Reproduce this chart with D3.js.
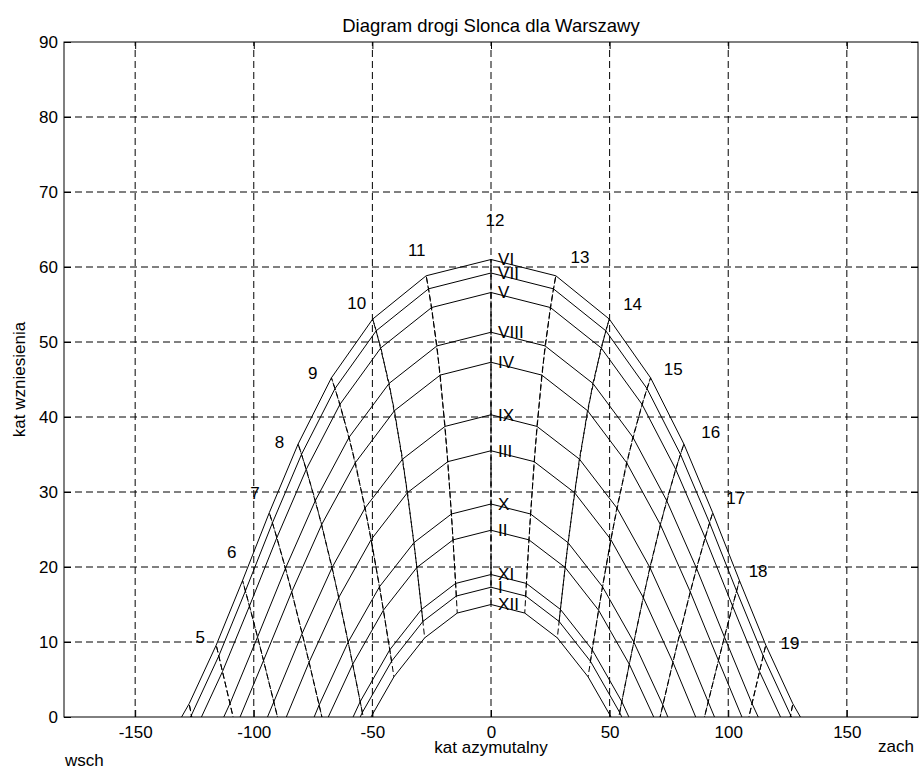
<!DOCTYPE html>
<html>
<head>
<meta charset="utf-8">
<script src="https://cdn.jsdelivr.net/npm/d3@7"></script>
<style>
  body { margin: 0; background: #fff; }
  svg { font-family: 'Liberation Sans', Arial, sans-serif; }
</style>
</head>
<body>
<script>
// hours of solar time, 3..21 (only 4..20 actually show above the horizon)
const hours = [3, 4, 5, 6, 7, 8, 9, 10, 11, 12, 13, 14, 15, 16, 17, 18, 19, 20, 21];
const months = ['I', 'II', 'III', 'IV', 'V', 'VI', 'VII', 'VIII', 'IX', 'X', 'XI', 'XII'];

// azimuth (deg from south, east negative) and elevation for every hour, one pair per month
const azI = [-115.07, -100.92, -88.60, -77.14, -65.86, -54.24, -41.92, -28.71, -14.62, 0, 14.62, 28.71, 41.92, 54.24, 65.86, 77.14, 88.60, 100.92, 115.07];
const altI = [-42.99, -34.27, -25.13, -16.04, -7.34, 0.61, 7.43, 12.74, 16.13, 17.30, 16.13, 12.74, 7.43, 0.61, -7.34, -16.04, -25.13, -34.27, -42.99];
const azII = [-120.68, -106.45, -93.85, -82.05, -70.38, -58.29, -45.34, -31.24, -15.99, 0, 15.99, 31.24, 45.34, 58.29, 70.38, 82.05, 93.85, 106.45, 120.68];
const altII = [-36.72, -28.31, -19.29, -10.13, -1.22, 7.04, 14.25, 19.94, 23.62, 24.90, 23.62, 19.94, 14.25, 7.04, -1.22, -10.13, -19.29, -28.31, -36.72];
const azIII = [-127.10, -113.21, -100.59, -88.62, -76.68, -64.16, -50.49, -35.20, -18.19, 0, 18.19, 35.20, 50.49, 64.16, 76.68, 88.62, 100.59, 113.21, 127.10];
const altIII = [-27.62, -19.69, -10.92, -1.78, 7.31, 15.95, 23.67, 29.92, 34.05, 35.50, 34.05, 29.92, 23.67, 15.95, 7.31, -1.78, -10.92, -19.69, -27.62];
const azIV = [-133.12, -119.92, -107.67, -95.88, -83.99, -71.38, -57.15, -40.68, -21.39, 0, 21.39, 40.68, 57.15, 71.38, 83.99, 95.88, 107.67, 119.92, 133.12];
const altIV = [-17.20, -9.83, -1.44, 7.54, 16.70, 25.66, 33.92, 40.85, 45.59, 47.30, 45.59, 40.85, 33.92, 25.66, 16.70, 7.54, -1.44, -9.83, -17.20];
const azV = [-137.37, -124.92, -113.19, -101.81, -90.26, -77.85, -63.66, -46.42, -25.01, 0, 25.01, 46.42, 63.66, 77.85, 90.26, 101.81, 113.19, 124.92, 137.37];
const altV = [-8.87, -1.96, 6.06, 14.80, 23.92, 33.04, 41.69, 49.22, 54.60, 56.60, 54.60, 49.22, 41.69, 33.04, 23.92, 14.80, 6.06, -1.96, -8.87];
const azVI = [-139.30, -127.24, -115.83, -104.74, -93.46, -81.31, -67.28, -49.86, -27.33, 0, 27.33, 49.86, 67.28, 81.31, 93.46, 104.74, 115.83, 127.24, 139.30];
const altVI = [-4.91, 1.77, 9.59, 18.19, 27.24, 36.40, 45.22, 53.06, 58.83, 61.00, 58.83, 53.06, 45.22, 36.40, 27.24, 18.19, 9.59, 1.77, -4.91];
const azVII = [-138.51, -126.29, -114.75, -103.52, -92.13, -79.86, -65.74, -48.38, -26.32, 0, 26.32, 48.38, 65.74, 79.86, 92.13, 103.52, 114.75, 126.29, 138.51];
const altVII = [-6.53, 0.24, 8.14, 16.81, 25.89, 35.03, 43.80, 51.50, 57.09, 59.20, 57.09, 51.50, 43.80, 35.03, 25.89, 16.81, 8.14, 0.24, -6.53];
const azVIII = [-134.98, -122.08, -110.03, -98.39, -86.62, -74.03, -59.80, -42.95, -22.78, 0, 22.78, 42.95, 59.80, 74.03, 86.62, 98.39, 110.03, 122.08, 134.98];
const altVIII = [-13.63, -6.45, 1.79, 10.68, 19.84, 28.87, 37.31, 44.48, 49.48, 51.30, 49.48, 44.48, 37.31, 28.87, 19.84, 10.68, 1.79, -6.45, -13.63];
const azIX = [-129.67, -116.01, -103.50, -91.56, -79.59, -66.97, -53.05, -37.25, -19.36, 0, 19.36, 37.25, 53.05, 66.97, 79.59, 91.56, 103.50, 116.01, 129.67];
const altIX = [-23.41, -15.70, -7.07, 2.02, 11.16, 19.94, 27.88, 34.39, 38.75, 40.30, 38.75, 34.39, 27.88, 19.94, 11.16, 2.02, -7.07, -15.70, -23.41];
const azX = [-122.95, -108.74, -96.14, -84.24, -72.45, -60.19, -46.98, -32.47, -16.67, 0, 16.67, 32.47, 46.98, 60.19, 72.45, 84.24, 96.14, 108.74, 122.95];
const altX = [-33.75, -25.50, -16.55, -7.38, 1.60, 10.00, 17.38, 23.25, 27.07, 28.40, 27.07, 23.25, 17.38, 10.00, 1.60, -7.38, -16.55, -25.50, -33.75];
const azXI = [-116.42, -102.22, -89.81, -78.26, -66.88, -55.14, -42.67, -29.26, -14.92, 0, 14.92, 29.26, 42.67, 55.14, 66.88, 78.26, 89.81, 102.22, 116.42];
const altXI = [-41.61, -32.96, -23.84, -14.72, -5.98, 2.05, 8.96, 14.35, 17.81, 19.00, 17.81, 14.35, 8.96, 2.05, -5.98, -14.72, -23.84, -32.96, -41.61];
const azXII = [-113.16, -99.10, -86.91, -75.60, -64.47, -53.02, -40.92, -27.97, -14.23, 0, 14.23, 27.97, 40.92, 53.02, 64.47, 75.60, 86.91, 99.10, 113.16];
const altXII = [-44.83, -36.02, -26.87, -17.80, -9.19, -1.34, 5.36, 10.55, 13.86, 15.00, 13.86, 10.55, 5.36, -1.34, -9.19, -17.80, -26.87, -36.02, -44.83];

// hour labels and where they sit (azimuth, elevation)
const hourLabels = ['5', '6', '7', '8', '9', '10', '11', '12', '13', '14', '15', '16', '17', '18', '19'];
const hourLabelAz = [-122.6, -109.3, -99.5, -89.2, -75.1, -56.6, -31.3, 1.7, 37.5, 59.7, 76.8, 92.6, 103.2, 112.6, 126.0];
const hourLabelAlt = [10.7, 22.0, 29.8, 36.7, 45.8, 55.2, 62.3, 66.3, 61.3, 55.1, 46.4, 38.0, 29.2, 19.5, 9.9];

const xTicks = [-150, -100, -50, 0, 50, 100, 150];
const yTicks = [0, 10, 20, 30, 40, 50, 60, 70, 80, 90];

const azAll = [azI, azII, azIII, azIV, azV, azVI, azVII, azVIII, azIX, azX, azXI, azXII];
const altAll = [altI, altII, altIII, altIV, altV, altVI, altVII, altVIII, altIX, altX, altXI, altXII];

const w = 923;
const h = 771;
const pLeft = 64, pRight = 918, pTop = 42, pBottom = 717;
const fontSize = 17;

const xScale = d3.scaleLinear().domain([-180, 180]).range([pLeft, pRight]);
const yScale = d3.scaleLinear().domain([0, 90]).range([pBottom, pTop]);

const svg = d3.select('body')
  .append('svg')
  .attr('width', w)
  .attr('height', h)
  .style('font-size', fontSize + 'px');

svg.append('rect').attr('width', w).attr('height', h).attr('fill', '#fff');

svg.append('clipPath')
  .attr('id', 'plotClip')
  .append('rect')
  .attr('x', pLeft)
  .attr('y', pTop)
  .attr('width', pRight - pLeft)
  .attr('height', pBottom - pTop);

//dashed grid
const grid = svg.append('g').attr('stroke', '#000').attr('stroke-width', 1).attr('stroke-dasharray', '7,4');
grid.selectAll('.vgrid')
  .data(xTicks)
  .enter()
  .append('line')
  .attr('x1', (d) => xScale(d))
  .attr('x2', (d) => xScale(d))
  .attr('y1', pBottom)
  .attr('y2', pTop);
grid.selectAll('.hgrid')
  .data(yTicks.slice(1, -1))
  .enter()
  .append('line')
  .attr('x1', pLeft)
  .attr('x2', pRight)
  .attr('y1', (d) => yScale(d))
  .attr('y2', (d) => yScale(d));

const plot = svg.append('g').attr('clip-path', 'url(#plotClip)');
const line = d3.line().x((d) => xScale(d[0])).y((d) => yScale(d[1]));

//one solid path per month
plot.selectAll('.month')
  .data(months.map((m, i) => azAll[i].map((a, k) => [a, altAll[i][k]])))
  .enter()
  .append('path')
  .attr('class', 'month')
  .attr('d', line)
  .attr('fill', 'none')
  .attr('stroke', '#000')
  .attr('stroke-width', 1);

//dashed hour lines, going through the months in calendar order
plot.selectAll('.hour')
  .data(hours.map((hr, k) => months.map((m, i) => [azAll[i][k], altAll[i][k]])))
  .enter()
  .append('path')
  .attr('class', 'hour')
  .attr('d', line)
  .attr('fill', 'none')
  .attr('stroke', '#000')
  .attr('stroke-width', 1)
  .attr('stroke-dasharray', '6,3');

//axes, ticks pointing inwards; plain hyphen for negatives like the original
const plain = (d) => String(d);
const xAxis = d3.axisBottom(xScale).tickValues(xTicks).tickFormat(plain).tickSize(-7).tickSizeOuter(0).tickPadding(9);
const yAxis = d3.axisLeft(yScale).tickValues(yTicks).tickFormat(plain).tickSize(-7).tickSizeOuter(0).tickPadding(6);
const xAxisTop = d3.axisTop(xScale).tickValues(xTicks).tickSize(-7).tickSizeOuter(0).tickFormat('');
const yAxisRight = d3.axisRight(yScale).tickValues(yTicks).tickSize(-7).tickSizeOuter(0).tickFormat('');

svg.append('g').attr('transform', `translate(0, ${pBottom})`).call(xAxis);
svg.append('g').attr('transform', `translate(${pLeft}, 0)`).call(yAxis);
svg.append('g').attr('transform', `translate(0, ${pTop})`).call(xAxisTop);
svg.append('g').attr('transform', `translate(${pRight}, 0)`).call(yAxisRight);
svg.selectAll('.domain').remove();
svg.selectAll('.tick text').attr('font-size', fontSize).attr('font-family', 'Liberation Sans, Arial, sans-serif');

svg.append('rect')
  .attr('x', pLeft)
  .attr('y', pTop)
  .attr('width', pRight - pLeft)
  .attr('height', pBottom - pTop)
  .attr('fill', 'none')
  .attr('stroke', '#000')
  .attr('stroke-width', 1);

//month names next to the noon point
svg.selectAll('.monthLabel')
  .data(months)
  .enter()
  .append('text')
  .attr('x', xScale(3))
  .attr('y', (d, i) => yScale(altAll[i][9]))
  .attr('dy', '0.35em')
  .text((d) => d);

//hour labels
svg.selectAll('.hourLabel')
  .data(hourLabels)
  .enter()
  .append('text')
  .attr('x', (d, i) => xScale(hourLabelAz[i]))
  .attr('y', (d, i) => yScale(hourLabelAlt[i]))
  .attr('dy', '0.35em')
  .attr('text-anchor', 'middle')
  .text((d) => d);

//title and axis labels
svg.append('text')
  .attr('x', (pLeft + pRight) / 2)
  .attr('y', 32)
  .attr('text-anchor', 'middle')
  .style('font-size', '18.5px')
  .text('Diagram drogi Slonca dla Warszawy');

svg.append('text')
  .attr('x', (pLeft + pRight) / 2)
  .attr('y', 753)
  .attr('text-anchor', 'middle')
  .text('kat azymutalny');

svg.append('text')
  .attr('transform', `translate(25, ${(pTop + pBottom) / 2}) rotate(-90)`)
  .attr('text-anchor', 'middle')
  .text('kat wzniesienia');

svg.append('text').attr('x', 65).attr('y', 766).text('wsch');
svg.append('text').attr('x', 878).attr('y', 752).text('zach');
</script>
</body>
</html>
